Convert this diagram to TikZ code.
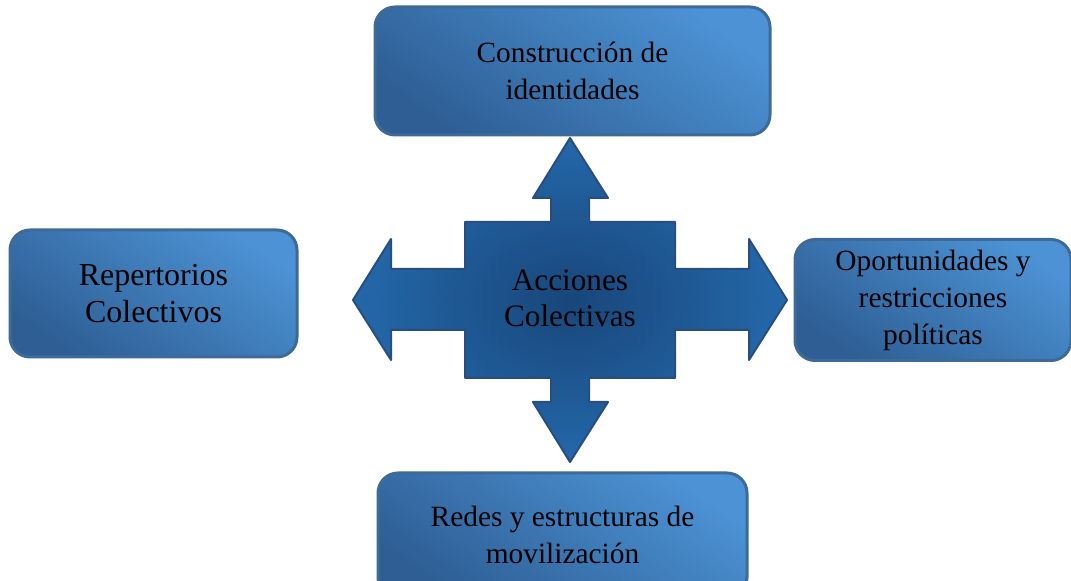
\documentclass[tikz,border=0pt]{standalone}
\usepackage{fontspec}
\setmainfont{Liberation Serif}
\definecolor{cajaclara}{RGB}{76,146,212}
\definecolor{cajaoscura}{RGB}{46,94,148}
\definecolor{cajaborde}{RGB}{62,106,152}
\definecolor{cruzclara}{RGB}{36,104,170}
\definecolor{cruzoscura}{RGB}{24,70,122}
\definecolor{cruzborde}{RGB}{40,78,128}
\begin{document}
\begin{tikzpicture}[x=0.5pt,y=-0.5pt, line join=round,
	caja/.style={rectangle, rounded corners=10pt, draw=cajaborde, line width=1.5pt,
		top color=cajaclara, bottom color=cajaoscura, shading angle=-35,
		align=center, font=\fontsize{14.7}{18.5}\selectfont},
	cruz/.style={draw=cruzborde, line width=1pt, inner color=cruzoscura, outer color=cruzclara}]
	\useasboundingbox (0,0) rectangle (1071,581);
	% flecha en cruz
	\draw[cruz] (570,138)--(608,198)--(589,198)--(589,222)--(675,222)--(675,269)--(749,269)--(749,239)
		--(787,300)--(749,360)--(749,330)--(675,330)--(675,378)--(589,378)--(589,402)--(608,402)
		--(570,462)--(533,402)--(551,402)--(551,378)--(465,378)--(465,330)--(391,330)--(391,360)
		--(353,300)--(391,239)--(391,269)--(465,269)--(465,222)--(551,222)--(551,198)--(533,198)--cycle;
	\node[align=center, font=\fontsize{15.6}{18}\selectfont] (acciones) at (570,298) {Acciones\\Colectivas};
	% cajas
	\node[caja, minimum width=197.5pt, minimum height=64pt] (identidades) at (572.5,71) {Construcción de\\identidades};
	\node[caja, minimum width=143.5pt, minimum height=63.5pt, font=\fontsize{16}{18.5}\selectfont] (repertorios) at (153.5,293.5) {Repertorios\\Colectivos};
	\node[caja, minimum width=138pt, minimum height=60.5pt, inner ysep=0pt] (oportunidades) at (933,300) {Oportunidades y\\restricciones\\políticas};
	\node[caja, minimum width=184.5pt, minimum height=62pt] (redes) at (562.5,535) {Redes y estructuras de\\movilización};
\end{tikzpicture}
\end{document}
